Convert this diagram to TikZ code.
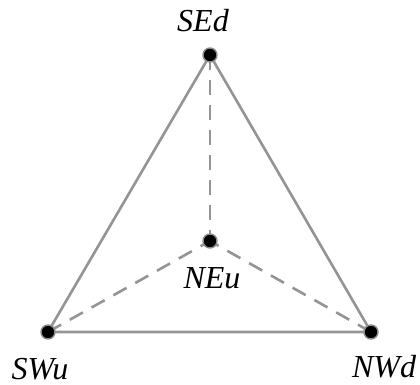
\documentclass[tikz,border=0pt]{standalone}
\usepackage{fontspec}
\newfontfamily\lblfont{Liberation Serif}
\begin{document}
\begin{tikzpicture}[x=1pt,y=-1pt,
  edge/.style={draw=black!42,line width=2.6pt},
  dedge/.style={draw=black!42,line width=2.6pt,dash pattern=on 15pt off 10pt},
  dot/.style={circle,fill=black,draw=black!45,line width=1.4pt,inner sep=0pt,minimum size=14pt},
  lbl/.style={anchor=base,inner sep=0pt,font=\lblfont\fontsize{32}{32}\selectfont\itshape}]
\useasboundingbox (0,0) rectangle (420,385);
\coordinate (sed) at (210,55);
\coordinate (neu) at (210,241);
\coordinate (swu) at (48,332);
\coordinate (nwd) at (371,332);
\draw[dedge] (sed) -- (neu);
\draw[dedge] (swu) -- (neu);
\draw[dedge] (nwd) -- (neu);
\draw[edge] (swu) -- (sed) -- (nwd) -- cycle;
\node[dot] (d1) at (sed) {};
\node[dot] (d2) at (neu) {};
\node[dot] (d3) at (swu) {};
\node[dot] (d4) at (nwd) {};
\node[lbl] (l1) at (203,32) {SEd};
\node[lbl] (l2) at (212,288) {NEu};
\node[lbl] (l3) at (40,379) {SWu};
\node[lbl] (l4) at (384,377) {NWd};
\end{tikzpicture}
\end{document}
